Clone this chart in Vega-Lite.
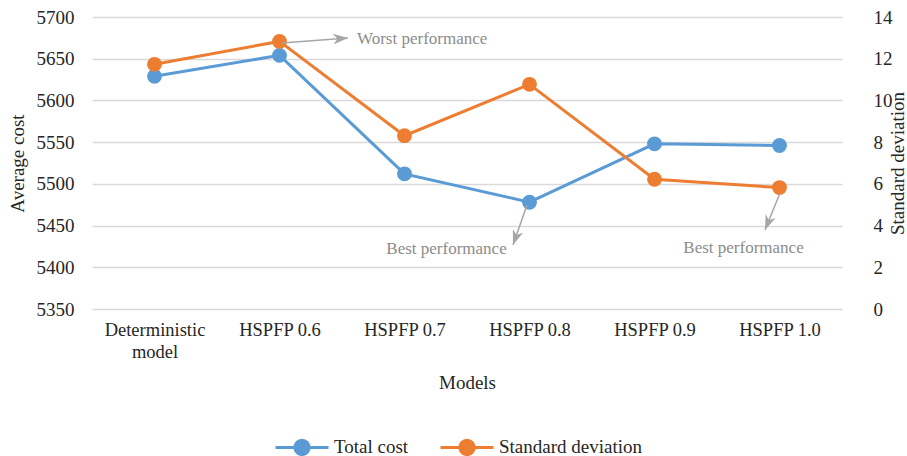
{
  "$schema": "https://vega.github.io/schema/vega-lite/v6.json",
  "autosize": {"type": "none"},
  "width": 750,
  "height": 292,
  "padding": {"left": 92, "top": 17, "right": 65, "bottom": 147},
  "background": "white",
  "config": {
    "view": {"stroke": null},
    "font": "Liberation Serif",
    "axis": {"labelFont": "Liberation Serif", "titleFont": "Liberation Serif", "labelColor": "#262626", "titleColor": "#262626", "titleFontWeight": "normal", "labelFontWeight": "normal", "labelFontSize": 19, "titleFontSize": 19}
  },
  "datasets": {
    "models": [
      {"model": "Deterministic model", "cost": 5629, "std": 11.73},
      {"model": "HSPFP 0.6", "cost": 5654, "std": 12.83},
      {"model": "HSPFP 0.7", "cost": 5512, "std": 8.31},
      {"model": "HSPFP 0.8", "cost": 5478, "std": 10.77},
      {"model": "HSPFP 0.9", "cost": 5548, "std": 6.22},
      {"model": "HSPFP 1.0", "cost": 5546, "std": 5.82}
    ],
    "notes": [
      {"label": "Worst performance", "pos": 2.12, "level": 5673.6, "align": "left"},
      {"label": "Best performance", "pos": 2.836, "level": 5422, "align": "center"},
      {"label": "Best performance", "pos": 5.212, "level": 5423, "align": "center"}
    ],
    "arrows": [
      {"id": "worst", "x0": 1.52, "y0": 5668.8, "x1": 2.048, "y1": 5674.8},
      {"id": "best1", "x0": 3.48, "y0": 5474.7, "x1": 3.368, "y1": 5426.7},
      {"id": "best2", "x0": 5.504, "y0": 5489.0, "x1": 5.384, "y1": 5444.7}
    ]
  },
  "layer": [
    {
      "data": {"name": "models"},
      "layer": [
        {
          "mark": {"type": "line", "strokeWidth": 3},
          "encoding": {
            "x": {"field": "model", "type": "nominal", "sort": null,
              "axis": {"title": "Models", "labelAngle": 0, "ticks": false, "domain": false, "labelPadding": 11, "titlePadding": 13, "labelFontSize": 18.5,
                "labelExpr": "datum.label == 'Deterministic model' ? ['Deterministic', 'model'] : datum.label", "labelLineHeight": 22}},
            "y": {"field": "cost", "type": "quantitative", "scale": {"domain": [5350, 5700], "nice": false, "zero": false},
              "axis": {"title": "Average cost", "format": "d", "values": [5350, 5400, 5450, 5500, 5550, 5600, 5650, 5700], "ticks": false, "domain": false, "labelPadding": 18, "titlePadding": 9, "gridColor": "#d9d9d9", "gridWidth": 1.5}},
            "color": {"datum": "Total cost", "type": "nominal",
              "scale": {"domain": ["Total cost", "Standard deviation"], "range": ["#5B9BD5", "#ED7D31"]},
              "legend": {"title": null, "orient": "none", "direction": "horizontal", "legendX": 182, "legendY": 402,
                "labelFont": "Liberation Serif", "labelFontSize": 19, "labelColor": "#262626", "labelOffset": 4, "columnPadding": 25,
                "symbolType": "M-1,0 L1,0 M-0.27,0 A0.27,0.27 0 1,0 0.27,0 A0.27,0.27 0 1,0 -0.27,0 Z",
                "symbolSize": 2809, "symbolStrokeWidth": 3,
                "encode": {"symbols": {"update": {"fill": {"scale": "color", "field": "value"}, "stroke": {"scale": "color", "field": "value"}, "opacity": {"value": 1}}}}}}
          }
        },
        {
          "mark": {"type": "point", "filled": true, "size": 220, "opacity": 1, "shape": "circle"},
          "encoding": {
            "x": {"field": "model", "type": "nominal", "sort": null},
            "y": {"field": "cost", "type": "quantitative"},
            "color": {"datum": "Total cost", "type": "nominal"}
          }
        }
      ]
    },
    {
      "data": {"name": "models"},
      "layer": [
        {
          "mark": {"type": "line", "strokeWidth": 3},
          "encoding": {
            "x": {"field": "model", "type": "nominal", "sort": null, "axis": null},
            "y": {"field": "std", "type": "quantitative", "scale": {"domain": [0, 14], "nice": false},
              "axis": {"title": "Standard deviation", "orient": "right", "values": [0, 2, 4, 6, 8, 10, 12, 14], "grid": false, "ticks": false, "domain": false, "labelPadding": 31, "titlePadding": 15, "titleAngle": 270}},
            "color": {"datum": "Standard deviation", "type": "nominal"}
          }
        },
        {
          "mark": {"type": "point", "filled": true, "size": 220, "opacity": 1, "shape": "circle"},
          "encoding": {
            "x": {"field": "model", "type": "nominal", "sort": null, "axis": null},
            "y": {"field": "std", "type": "quantitative"},
            "color": {"datum": "Standard deviation", "type": "nominal"}
          }
        }
      ]
    },
    {
      "data": {"name": "arrows"},
      "layer": [
        {
          "mark": {"type": "rule", "color": "#A6A6A6", "strokeWidth": 1.5},
          "encoding": {
            "x": {"field": "x0", "type": "quantitative", "scale": {"domain": [0, 6], "nice": false, "zero": false}, "axis": null},
            "x2": {"field": "x1"},
            "y": {"field": "y0", "type": "quantitative", "scale": {"domain": [5350, 5700], "nice": false, "zero": false}, "axis": null},
            "y2": {"field": "y1"}
          }
        },
        {
          "transform": [{"filter": "datum.id == 'worst'"}],
          "mark": {"type": "point", "filled": true, "opacity": 1, "color": "#A6A6A6", "size": 225, "angle": -4.3, "shape": "M0,0 L-2,-0.72 L-1.4,0 L-2,0.72 Z"},
          "encoding": {
            "x": {"field": "x1", "type": "quantitative", "scale": {"domain": [0, 6], "nice": false, "zero": false}, "axis": null},
            "y": {"field": "y1", "type": "quantitative", "scale": {"domain": [5350, 5700], "nice": false, "zero": false}, "axis": null}
          }
        },
        {
          "transform": [{"filter": "datum.id == 'best1'"}],
          "mark": {"type": "point", "filled": true, "opacity": 1, "color": "#A6A6A6", "size": 225, "angle": 109.3, "shape": "M0,0 L-2,-0.72 L-1.4,0 L-2,0.72 Z"},
          "encoding": {
            "x": {"field": "x1", "type": "quantitative", "scale": {"domain": [0, 6], "nice": false, "zero": false}, "axis": null},
            "y": {"field": "y1", "type": "quantitative", "scale": {"domain": [5350, 5700], "nice": false, "zero": false}, "axis": null}
          }
        },
        {
          "transform": [{"filter": "datum.id == 'best2'"}],
          "mark": {"type": "point", "filled": true, "opacity": 1, "color": "#A6A6A6", "size": 225, "angle": 112, "shape": "M0,0 L-2,-0.72 L-1.4,0 L-2,0.72 Z"},
          "encoding": {
            "x": {"field": "x1", "type": "quantitative", "scale": {"domain": [0, 6], "nice": false, "zero": false}, "axis": null},
            "y": {"field": "y1", "type": "quantitative", "scale": {"domain": [5350, 5700], "nice": false, "zero": false}, "axis": null}
          }
        }
      ]
    },
    {
      "data": {"name": "notes"},
      "layer": [
        {
          "transform": [{"filter": "datum.align == 'left'"}],
          "mark": {"type": "text", "align": "left", "baseline": "middle", "font": "Liberation Serif", "fontSize": 17, "color": "#8C8C8C"},
          "encoding": {
            "x": {"field": "pos", "type": "quantitative", "scale": {"domain": [0, 6], "nice": false, "zero": false}, "axis": null},
            "y": {"field": "level", "type": "quantitative", "scale": {"domain": [5350, 5700], "nice": false, "zero": false}, "axis": null},
            "text": {"field": "label"}
          }
        },
        {
          "transform": [{"filter": "datum.align == 'center'"}],
          "mark": {"type": "text", "align": "center", "baseline": "middle", "font": "Liberation Serif", "fontSize": 17, "color": "#8C8C8C"},
          "encoding": {
            "x": {"field": "pos", "type": "quantitative", "scale": {"domain": [0, 6], "nice": false, "zero": false}, "axis": null},
            "y": {"field": "level", "type": "quantitative", "scale": {"domain": [5350, 5700], "nice": false, "zero": false}, "axis": null},
            "text": {"field": "label"}
          }
        }
      ]
    }
  ],
  "resolve": {"scale": {"x": "independent", "y": "independent"}}
}
